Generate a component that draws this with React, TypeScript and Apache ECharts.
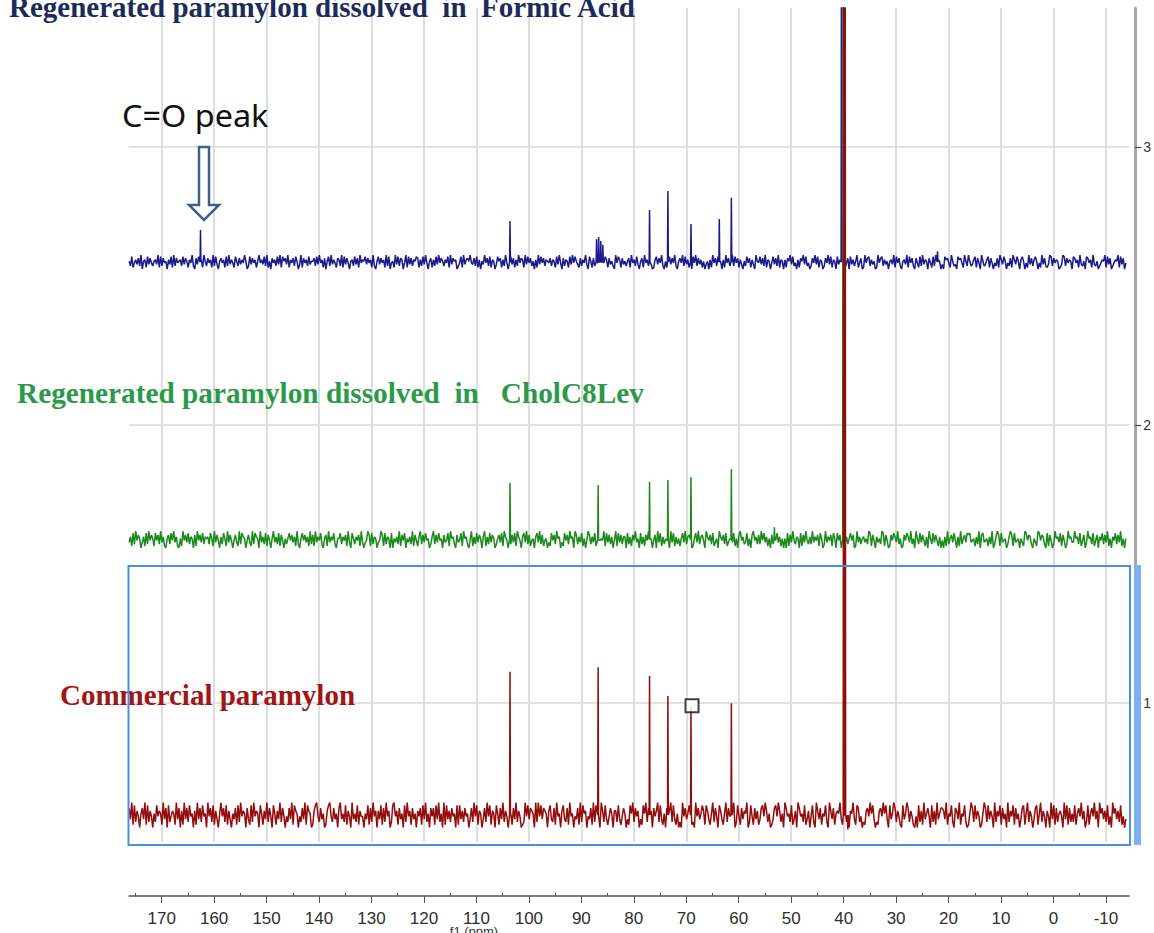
import React, { useEffect, useRef } from "react";
import * as echarts from "echarts";

// ---- axes ----
const PPM_LEFT = 176.23;
const PPM_RIGHT = -14.44;
const X_MAJOR = [170, 160, 150, 140, 130, 120, 110, 100, 90, 80, 70, 60, 50, 40, 30, 20, 10, 0, -10];
const X_MINOR = [175, 165, 155, 145, 135, 125, 115, 105, 95, 85, 75, 65, 55, 45, 35, 25, 15, 5, -5];
const Y_LABELS = [1, 2, 3];
const Y_MIN = 0.5;
const Y_MAX = 3.5;
const Y_STEP = 0.5;

// ---- baseline noise texture (estimated, hand-typed digits 0..9) ----
const NOISE_START_PPM = 176.2;
const NOISE_STEP_PPM = 0.25;

const BLUE_BASE = 2.586;
const BLUE_AMP = 0.025;
const BLUE_NOISE = [
  "52814637290561837425", "63918274506381927456", "28375164920738461952", "74619283057461829364",
  "18527364950283746159", "46382915074628391857", "39164728503917462835", "57283946170582936417",
  "62918374056283719465", "83746192058374619280", "45193827604918372658", "71628394057162839475",
  "26481937560248193675", "94372816053947281650", "38571629405837162947", "61938472506193847265",
  "47265183940726518394", "85317264930851726493", "29486173520948617352", "57194628305719462830",
  "16837492051683749205", "74928361508492736150", "35061947283506194728", "92847163052847163095",
  "48372916504837291650", "61759382406175938240", "27493816502749381650", "83625914708362591470",
  "19478263501947826350", "56391847205639184720", "74182936507418293650", "30867419523086741952",
  "95236817409523681740", "42719638504271963850", "68504193726850419372", "13982746501398274650",
  "87461932508746193250", "24659183702465918370", "4",
].join("");
const BLUE_PEAK_PPM = [162.6, 103.6, 87.1, 86.7, 86.3, 85.9, 77.0, 73.5, 69.1, 63.7, 61.4, 40.4, 22.1];
const BLUE_PEAK_VAL = [2.701, 2.734, 2.668, 2.676, 2.662, 2.648, 2.773, 2.842, 2.723, 2.741, 2.817, 4.0, 2.625];

const GREEN_BASE = 1.588;
const GREEN_AMP = 0.03;
const GREEN_NOISE = [
  "36182947503618294751", "84729361057284936105", "19473826507194738265", "62851937406285193740",
  "47319286504731928650", "93628174059362817405", "25847361920584736192", "71936482057193648205",
  "58264719308526471930", "34971826503497182650", "80536291748053629174", "16927384502692738450",
  "73481956207348195620", "49162837506916283750", "25738196405273819640", "68392714506839271450",
  "31847295603184729560", "97263815049726381504", "54918372604918372660", "82617493508261749350",
  "47093816254709381625", "15839267401583926740", "96472813509647281350", "38150794623815079462",
  "72948361507294836150", "50817394265081739426", "29364718502936471850", "84701936258470193625",
  "63529817406352981740", "17486392501748639250", "95283741609528374160", "40619257384061925738",
  "78345162907834516290", "26971834502697183450", "53198476205319847620", "81740295638174029563",
  "39562814703956281470", "64827391506482739150", "5",
].join("");
const GREEN_PEAK_PPM = [103.6, 86.8, 77.0, 73.5, 69.1, 61.4, 53.2, 40.1];
const GREEN_PEAK_VAL = [1.791, 1.784, 1.795, 1.802, 1.813, 1.842, 1.632, 4.0];

const RED_BASE = 0.597;
const RED_AMP = 0.045;
const RED_NOISE = [
  "73918264057391826405", "28465193708246519370", "61937284506193728450", "94728163059472816305",
  "37182946507318294650", "85163927408516392740", "42739186504273918650", "16894273501689427350",
  "79352816409352816440", "53817294606381729460", "28946173508294617350", "64718392507471839250",
  "91836274508183627450", "37294816503729481650", "85173926406517392640", "12948376509294837650",
  "68327194506832719450", "43719285604371928560", "96283147506628314750", "31859274603185927460",
  "74692831507469283150", "20947358612094735861", "86315927408631592740", "59028417365902841736",
  "13784962501378496250", "97452813609745281360", "48209637154820963715", "65931872406593187240",
  "21674958302167495830", "83597264108359726410", "40826193574082619357", "76391548207639154820",
  "15972836401597283640", "92648173509264817350", "37815926403781592640", "64093817256409381725",
  "28157493602815749360", "95736281409573628140", "3",
].join("");
const RED_PEAK_PPM = [103.6, 86.8, 77.0, 73.5, 69.1, 61.4, 40.0, 39.7, 39.2];
const RED_PEAK_VAL = [1.112, 1.129, 1.097, 1.025, 0.985, 0.999, 4.0, 4.0, 0.545];

const CURSOR = [68.9, 0.99];

// ---- texts ----
const TITLE_FORMIC = "Regenerated paramylon dissolved  in  Formic Acid";
const TITLE_CHOL = "Regenerated paramylon dissolved  in   CholC8Lev";
const TITLE_COMMERCIAL = "Commercial paramylon";
const CO_LABEL = "C=O peak";
const X_NAME = "f1 (ppm)";

const BLUE = "#1a1a8c";
const GREEN = "#1d8a1d";
const RED = "#930d0d";

function buildSpectrum(noise: string, base: number, amp: number, peakPpm: number[], peakVal: number[]) {
  const pts: [number, number][] = [];
  for (let i = 0; i < noise.length; i++) {
    const ppm = NOISE_START_PPM - i * NOISE_STEP_PPM;
    if (ppm < PPM_RIGHT + 0.2) break;
    if (peakPpm.some((p) => Math.abs(p - ppm) < 0.15)) continue;
    const d = noise.charCodeAt(i) - 48;
    pts.push([ppm, base + ((d - 4.5) / 4.5) * amp]);
  }
  peakPpm.forEach((p, k) => {
    pts.push([p + 0.08, base], [p, peakVal[k]], [p - 0.08, base]);
  });
  pts.sort((a, b) => b[0] - a[0]);
  return pts;
}

function text(x: number, y: number, t: string, font: string, fill: string, scaleX = 1, align = "left") {
  return {
    type: "text",
    x,
    y,
    scaleX,
    z: 100,
    style: {
      text: t,
      font,
      fill,
      textAlign: align,
      align,
      textVerticalAlign: "middle",
      verticalAlign: "middle",
    },
  };
}

export default function App() {
  const ref = useRef<HTMLDivElement>(null);
  useEffect(() => {
    if (!ref.current) return;
    const chart = echarts.init(ref.current, undefined, { renderer: "svg" });
    const lineSeries = (name: string, color: string, data: [number, number][]) => ({
      name,
      type: "line",
      data,
      showSymbol: false,
      symbol: "none",
      clip: true,
      lineStyle: { color, width: 1.5 },
      silent: true,
    });
    const option: any = {
      animation: false,
      backgroundColor: "#ffffff",
      grid: { left: 129, right: 24, top: 8, bottom: 91 },
      xAxis: [
        {
          type: "value",
          inverse: true,
          min: PPM_RIGHT,
          max: PPM_LEFT,
          position: "bottom",
          offset: 54,
          axisLine: { show: true, onZero: false, lineStyle: { color: "#555", width: 1.5 } },
          axisTick: { show: true, customValues: X_MAJOR, length: 7, lineStyle: { color: "#555", width: 1 } },
          axisLabel: {
            customValues: X_MAJOR,
            fontSize: 17,
            fontFamily: "Liberation Sans",
            color: "#2e2e2e",
            margin: 14,
          },
          splitLine: { show: true, lineStyle: { color: "#dedede", width: 2 } },
        },
        {
          type: "value",
          inverse: true,
          min: PPM_RIGHT,
          max: PPM_LEFT,
          position: "bottom",
          offset: 54,
          axisLine: { show: false, onZero: false },
          axisTick: { show: true, inside: true, customValues: X_MINOR, length: 3, lineStyle: { color: "#555" } },
          axisLabel: { show: false },
          splitLine: { show: false },
        },
      ],
      yAxis: {
        type: "value",
        position: "right",
        min: Y_MIN,
        max: Y_MAX,
        interval: Y_STEP,
        offset: 6,
        axisLine: { show: true, onZero: false, lineStyle: { color: "#a8a8a8", width: 3 } },
        axisTick: { show: true, customValues: Y_LABELS, length: 6, lineStyle: { color: "#444", width: 1.2 } },
        axisLabel: { customValues: Y_LABELS, fontSize: 14, fontFamily: "Liberation Sans", color: "#333", margin: 8 },
        splitLine: { show: true, lineStyle: { color: "#d9d9d9", width: 1.5 } },
      },
      series: [
        lineSeries("formic", BLUE, buildSpectrum(BLUE_NOISE, BLUE_BASE, BLUE_AMP, BLUE_PEAK_PPM, BLUE_PEAK_VAL)),
        lineSeries("cholc8lev", GREEN, buildSpectrum(GREEN_NOISE, GREEN_BASE, GREEN_AMP, GREEN_PEAK_PPM, GREEN_PEAK_VAL)),
        lineSeries("commercial", RED, buildSpectrum(RED_NOISE, RED_BASE, RED_AMP, RED_PEAK_PPM, RED_PEAK_VAL)),
        {
          type: "scatter",
          data: [CURSOR],
          symbol: "rect",
          symbolSize: 13,
          z: 10,
          silent: true,
          itemStyle: { color: "#ffffff", borderColor: "#111", borderWidth: 2 },
        },
      ],
      graphic: [
        text(9, 7, TITLE_FORMIC, 'bold 29px "Liberation Serif"', "#1c2b5a"),
        text(17, 393, TITLE_CHOL, 'bold 29px "Liberation Serif"', "#2b9a48", 1.01),
        text(60, 695, TITLE_COMMERCIAL, 'bold 29px "Liberation Serif"', "#a31515"),
        text(122, 115, CO_LABEL, '30px "Noto Sans"', "#111", 1.08),
        text(474, 931, X_NAME, '13px "Liberation Sans"', "#333", 1, "center"),
        {
          type: "polygon",
          z: 100,
          shape: {
            points: [
              [199, 147],
              [209, 147],
              [209, 205],
              [219, 205],
              [204, 220],
              [189, 205],
              [199, 205],
            ],
          },
          style: { fill: "#ffffff", stroke: "#3f6089", lineWidth: 2.5 },
        },
        {
          type: "rect",
          z: 100,
          shape: { x: 128.5, y: 566, width: 1001.5, height: 279 },
          style: { fill: "none", stroke: "#4a8fe3", lineWidth: 2 },
        },
        {
          type: "rect",
          z: 100,
          shape: { x: 1134, y: 565, width: 7, height: 280 },
          style: { fill: "#7db0f0" },
        },
      ],
    };
    chart.setOption(option);
    return () => chart.dispose();
  }, []);
  return (
    <div
      ref={ref}
      style={{ position: "absolute", left: 0, top: 0, width: 1154, height: 933, background: "#fff" }}
    />
  );
}
